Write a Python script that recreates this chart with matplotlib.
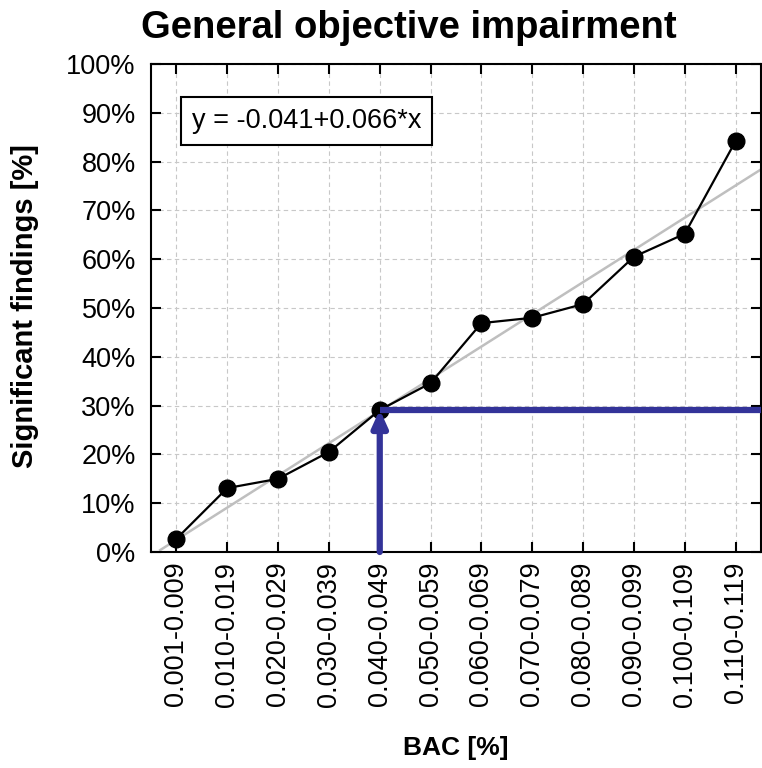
import matplotlib
matplotlib.use("Agg")
import matplotlib.pyplot as plt
import numpy as np

categories = ["0.001-0.009", "0.010-0.019", "0.020-0.029", "0.030-0.039",
              "0.040-0.049", "0.050-0.059", "0.060-0.069", "0.070-0.079",
              "0.080-0.089", "0.090-0.099", "0.100-0.109", "0.110-0.119"]
values = [2.7, 13.1, 15.0, 20.5, 29.1, 34.6, 46.9, 48.0, 50.8, 60.5, 65.2, 84.2]
fit_intercept = -0.041
fit_slope = 0.066
marker_idx = 4
marker_level = 29.2
yticks = list(range(0, 101, 10))

plt.rcParams['font.family'] = ['Liberation Sans', 'DejaVu Sans']

fig = plt.figure(figsize=(7.62, 7.68), dpi=100)
ax = fig.add_axes([151/762, 1-552/768, 610/762, 488/768])

x = np.arange(len(categories))
ax.grid(True, color='#c8c8c8', linestyle=(0, (4, 3)), linewidth=0.8)
ax.set_axisbelow(True)

# regression line (x in 1..12)
xf = np.linspace(-0.5, 11.5, 200)
yf = (fit_intercept + fit_slope * (xf + 1)) * 100
mask = yf >= 0
ax.plot(xf[mask], yf[mask], color='#bfbfbf', lw=1.8, zorder=2)

ax.plot(x, values, color='black', lw=1.6, marker='o', ms=12, zorder=3)

# blue arrow and line
blue = '#333399'
ax.plot([marker_idx, 11.5], [marker_level, marker_level], color=blue, lw=4.5,
        solid_capstyle='butt', zorder=4, clip_on=False)
ax.annotate('', xy=(marker_idx, marker_level), xytext=(marker_idx, 0),
            arrowprops=dict(arrowstyle='-|>,head_length=1.0,head_width=0.45',
                            color=blue, lw=4.5, shrinkA=0, shrinkB=0),
            zorder=4)

ax.set_xlim(-0.5, 11.5)
ax.set_ylim(0, 100)
ax.set_xticks(x)
ax.set_xticklabels(categories, rotation=90, fontsize=19.5)
ax.set_yticks(yticks)
ax.set_yticklabels([f"{v}%" for v in yticks], fontsize=19.5)
ax.tick_params(direction='in', length=7, width=1.5, top=True, right=True)
ax.tick_params(axis='y', pad=11)
ax.tick_params(axis='x', pad=7)
for s in ax.spines.values():
    s.set_linewidth(1.5)

ax.text(0.067, 0.883, "y = -0.041+0.066*x", transform=ax.transAxes, fontsize=19.5,
        va='center', ha='left',
        bbox=dict(boxstyle='square,pad=0.4', fc='white', ec='black', lw=1.5), zorder=5)

fig.text(409/762, 1-28/768, "General objective impairment", ha='center', va='center',
         fontsize=27.5, fontweight='bold')
fig.text(456/762, 1-748/768, "BAC [%]", ha='center', va='center',
         fontsize=19, fontweight='bold')
fig.text(25/762, 1-306/768, "Significant findings [%]", ha='center', va='center',
         fontsize=21, fontweight='bold', rotation=90)

fig.savefig("out.png", dpi=100)
